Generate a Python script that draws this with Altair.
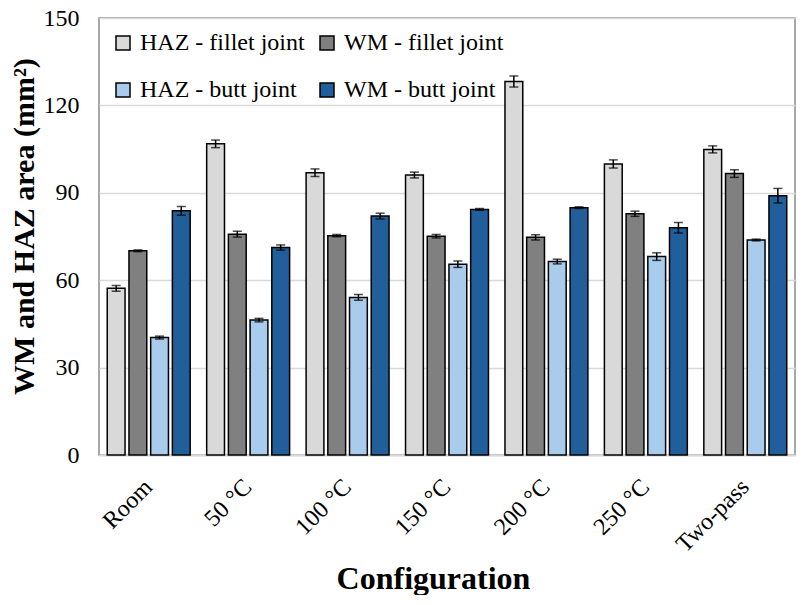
import altair as alt
import pandas as pd

configs = ["Room", "50 °C", "100 °C", "150 °C", "200 °C", "250 °C", "Two-pass"]
series = ["HAZ - fillet joint", "WM - fillet joint", "HAZ - butt joint", "WM - butt joint"]
colors = ["#D9D9D9", "#808080", "#A9CBEC", "#215F9B"]
y_ticks = [0, 30, 60, 90, 120, 150]

haz_fillet = [57.2, 106.8, 96.9, 96.1, 128.2, 99.9, 104.9]
haz_fillet_err = [1.0, 1.3, 1.3, 1.0, 1.9, 1.4, 1.2]
wm_fillet = [70.1, 75.8, 75.3, 75.1, 74.7, 82.8, 96.6]
wm_fillet_err = [0.3, 1.0, 0.4, 0.6, 0.9, 0.9, 1.3]
haz_butt = [40.3, 46.3, 54.1, 65.5, 66.4, 68.1, 73.8]
haz_butt_err = [0.5, 0.6, 1.0, 1.1, 0.8, 1.3, 0.3]
wm_butt = [83.8, 71.2, 82.0, 84.3, 84.9, 78.0, 89.0]
wm_butt_err = [1.5, 0.9, 1.0, 0.3, 0.3, 1.8, 2.5]

vals = [haz_fillet, wm_fillet, haz_butt, wm_butt]
errs = [haz_fillet_err, wm_fillet_err, haz_butt_err, wm_butt_err]

rows = []
for s, v, e in zip(series, vals, errs):
    for c, vv, ee in zip(configs, v, e):
        rows.append({"config": c, "series": s, "value": vv, "lo": vv - ee, "hi": vv + ee})
df = pd.DataFrame(rows)

FONT = "Liberation Serif"

x_enc = alt.X(
    "config:N",
    sort=configs,
    scale=alt.Scale(paddingInner=0.166, paddingOuter=0.083),
    axis=alt.Axis(
        title="Configuration",
        labelAngle=-45,
        labelAlign="right",
        labelBaseline="middle",
        labelPadding=28,
        labelOffset=0,
        labelFont=FONT,
        ticks=False,
        domainColor="#D9D9D9",
        domainWidth=2,
        titleX=334,
        titleY=123,
        titleBaseline="middle",
        titleAlign="center",
        titleFontSize=32,
    ),
)
xoff = alt.XOffset("series:N", sort=series, scale=alt.Scale(paddingInner=0.18, paddingOuter=0))

base = alt.Chart(df).encode(x=x_enc, xOffset=xoff)

bars = base.mark_bar(stroke="black", strokeWidth=1.5).encode(
    y=alt.Y(
        "value:Q",
        scale=alt.Scale(domain=[0, 150], nice=False),
        axis=alt.Axis(
            title="WM and HAZ area (mm²)",
            values=y_ticks,
            tickSize=0,
            ticks=False,
            labelPadding=20,
            labelFont=FONT,
            domain=False,
            gridColor="#D9D9D9",
            gridWidth=1.5,
            titleFontSize=30,
            titleX=-75,
            titleY=208,
            titleAngle=-90,
            titleBaseline="middle",
            titleAlign="center",
        ),
    ),
    color=alt.Color(
        "series:N",
        sort=series,
        scale=alt.Scale(domain=series, range=colors),
        legend=alt.Legend(
            title=None,
            orient="none",
            legendX=12,
            legendY=13,
            columns=2,
            direction="horizontal",
            symbolType="square",
            symbolSize=196,
            symbolStrokeColor="black",
            symbolStrokeWidth=1.5,
            symbolOpacity=1,
            labelFont=FONT,
            labelLimit=0,
            labelOffset=5,
            columnPadding=10,
            rowPadding=23,
            padding=0,
        ),
    ),
)

rule = base.mark_rule(color="black", strokeWidth=1.5).encode(y="lo:Q", y2="hi:Q")
cap_lo = base.mark_tick(color="black", size=9, thickness=1.5).encode(y="lo:Q")
cap_hi = base.mark_tick(color="black", size=9, thickness=1.5).encode(y="hi:Q")

chart = (
    alt.layer(bars, rule, cap_lo, cap_hi)
    .properties(
        width=696,
        height=437,
        autosize=alt.AutoSizeParams(type="none"),
        padding={"left": 91, "top": 10, "right": 1, "bottom": 140},
    )
    .configure(font=FONT)
    .configure_view(stroke="#8C8C8C", strokeWidth=1.5)
    .configure_axis(
        labelFont=FONT,
        labelFontSize=24,
        labelColor="black",
        titleFont=FONT,
        titleFontWeight="bold",
        titleColor="black",
    )
    .configure_legend(
        labelFont=FONT,
        labelFontSize=24,
        labelColor="black",
    )
)

chart.save("out.html", embed_options={"renderer": "svg", "actions": False})
